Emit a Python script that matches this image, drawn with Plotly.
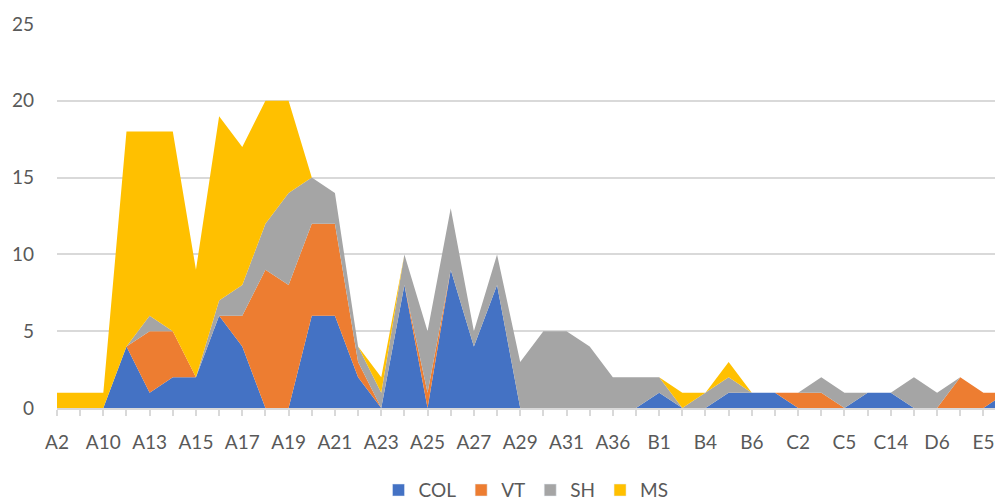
import plotly.graph_objects as go

# Sample sites along the route, in survey order
categories = [
    "A2", "A3", "A10", "A12", "A13", "A14", "A15", "A16", "A17", "A18",
    "A19", "A20", "A21", "A22", "A23", "A24", "A25", "A26", "A27", "A28",
    "A29", "A30", "A31", "A32", "A36", "A37", "B1", "B3", "B4", "B5",
    "B6", "C1", "C2", "C3", "C5", "C10", "C14", "D1", "D6", "E1",
    "E5", "E6",
]

# Counts per group at each site
col = [0, 0, 0, 4, 1, 2, 2, 6, 4, 0, 0, 6, 6, 2, 0, 8, 0, 9, 4, 8,
       0, 0, 0, 0, 0, 0, 1, 0, 0, 1, 1, 1, 0, 0, 0, 1, 1, 0, 0, 0, 0, 1]
vt = [0, 0, 0, 0, 4, 3, 0, 0, 2, 9, 8, 6, 6, 1, 0, 0, 1, 0, 0, 0,
      0, 0, 0, 0, 0, 0, 0, 0, 0, 0, 0, 0, 1, 1, 0, 0, 0, 0, 0, 2, 1, 0]
sh = [0, 0, 0, 0, 1, 0, 0, 1, 2, 3, 6, 3, 2, 1, 1, 2, 4, 4, 1, 2,
      3, 5, 5, 4, 2, 2, 1, 0, 1, 1, 0, 0, 0, 1, 1, 0, 0, 2, 1, 0, 0, 0]
ms = [1, 1, 1, 14, 12, 13, 7, 12, 9, 8, 6, 0, 0, 0, 1, 0, 0, 0, 0, 0,
      0, 0, 0, 0, 0, 0, 0, 1, 0, 1, 0, 0, 0, 0, 0, 0, 0, 0, 0, 0, 0, 0]

series = [
    ("COL", col, "#4472C4"),
    ("VT", vt, "#ED7D31"),
    ("SH", sh, "#A5A5A5"),
    ("MS", ms, "#FFC000"),
]

y_ticks = [0, 5, 10, 15, 20, 25]
tick_text = [c if i % 2 == 0 else "" for i, c in enumerate(categories)]

FONT = "Lato"
TEXT = "#595959"
GRID = "#D9D9D9"

fig = go.Figure()

# Stacked areas
for name, vals, color in series:
    fig.add_trace(go.Scatter(
        x=categories, y=vals, name=name, mode="lines",
        stackgroup="one", line=dict(width=0, color=color),
        fillcolor=color, showlegend=False, hoverinfo="skip",
    ))

# Square legend keys
for name, vals, color in series:
    fig.add_trace(go.Bar(
        x=[None], y=[None], name=name, marker_color=color, showlegend=True,
    ))

fig.update_layout(
    width=995, height=502,
    margin=dict(l=57, r=0, t=24, b=94, autoexpand=False),
    paper_bgcolor="white", plot_bgcolor="white",
    font=dict(family=FONT, color=TEXT, size=19),
    showlegend=True,
    legend=dict(
        orientation="h", x=0.5, xanchor="center", y=-0.214, yanchor="middle",
        font=dict(family=FONT, color=TEXT, size=19),
        itemwidth=30, tracegroupgap=0, traceorder="normal",
    ),
    xaxis=dict(
        type="category", categoryorder="array", categoryarray=categories,
        range=[0, 40.5], automargin=False,
        tickmode="array", tickvals=categories, ticktext=tick_text,
        ticks="outside", ticklen=6, tickcolor=GRID, tickwidth=1.5,
        showline=True, linecolor=GRID, linewidth=1.5,
        showgrid=False, zeroline=False,
        tickfont=dict(family=FONT, color=TEXT, size=19),
        ticklabelstandoff=10,
    ),
    yaxis=dict(
        range=[0, 25], tickvals=y_ticks, automargin=False,
        showgrid=True, gridcolor=GRID, gridwidth=1.5,
        zeroline=False, showline=False, ticks="",
        tickfont=dict(family=FONT, color=TEXT, size=19),
        ticklabelstandoff=22,
    ),
)

fig.write_html("out.html")
